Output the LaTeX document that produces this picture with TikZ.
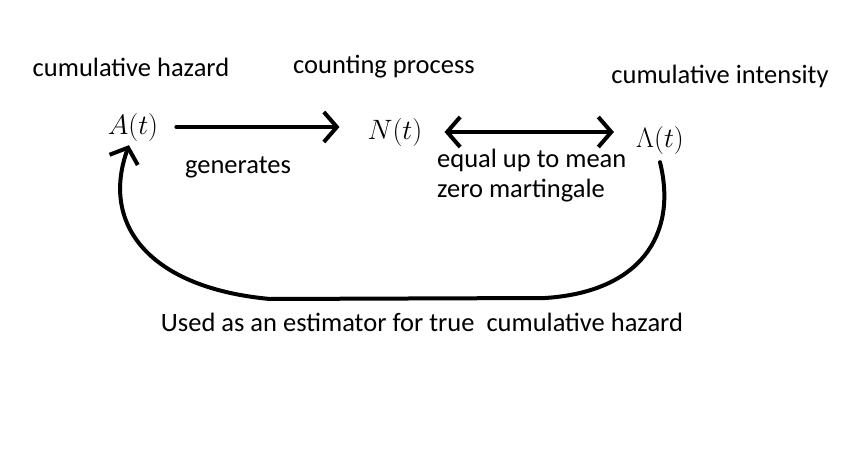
\RequirePackage{fix-cm}
\documentclass[tikz,border=0pt]{standalone}
\usepackage{fontspec}
\setmainfont{Carlito}
\usetikzlibrary{arrows.meta,positioning}

\begin{document}
\begin{tikzpicture}[
        x=1pt, y=-1pt,
        qty/.style={inner sep=0pt, anchor=base, font=\fontsize{28}{33}\selectfont},
        caption/.style={inner sep=0pt, font=\fontsize{26.5}{30}\selectfont},
        arrow/.style={line width=4pt, line cap=round, line join=round, -{Straight Barb[length=13pt,width=30pt,line width=4pt]}},
        twoway/.style={line width=4pt, line cap=round, line join=round, {Straight Barb[length=13pt,width=30pt,line width=4pt]}-{Straight Barb[length=13pt,width=30pt,line width=4pt]}}
    ]
        \useasboundingbox (0,0) rectangle (859,452);

        % quantities
        \node (A) [qty] at (133,134) {$A(t)$};
        \node (N) [qty] at (395,139) {$N(t)$};
        \node (Lam) [qty] at (660,147) {$\Lambda(t)$};

        % labels
        \node (hazlbl) [caption] at (131,67) {cumulative hazard};
        \node (cntlbl) [caption] at (384,67) {counting process};
        \node (intlbl) [caption] at (720,76) {cumulative intensity};
        \node (gen) [caption] at (238,167) {generates};
        \node (equal) [caption, align=left, anchor=west] at (437,176) {equal up to mean\\zero martingale};
        \node (estim) [caption] at (422,322) {Used as an estimator for true\ \ cumulative hazard};

        \draw [arrow, shorten <=18pt, shorten >=28pt] (A.east) -- (A.east -| N.west);
        \draw [twoway, shorten <=22pt, shorten >=22pt] (N.east) -- (N.east -| Lam.west);
        \draw [arrow] ([yshift=-8pt]Lam.south) .. controls (678,235) and (640,292) .. (545,298)
            -- (270,299) .. controls (150,288) and (100,225) .. ([xshift=-4pt,yshift=-4pt]A.south);
    \end{tikzpicture}
\end{document}
